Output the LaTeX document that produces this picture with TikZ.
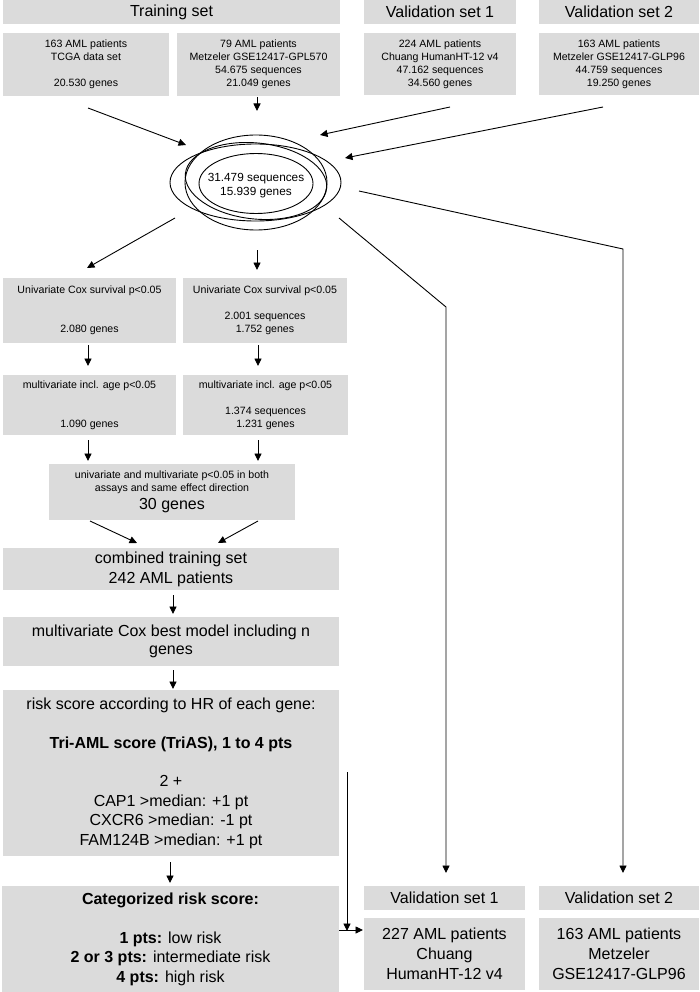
\documentclass[tikz,border=0pt]{standalone}
\usepackage{fontspec}
\setmainfont{Liberation Sans}
\usetikzlibrary{arrows.meta}
\definecolor{boxgray}{RGB}{219,219,219}
\begin{document}
\begin{tikzpicture}[x=1pt,y=-1pt,
  box/.style={fill=boxgray, inner sep=0pt, align=center},
  sm/.style={font=\fontsize{10.6}{13}\selectfont},
  lg/.style={font=\fontsize{16}{19.5}\selectfont},
  arr/.style={-{Triangle[length=7.5pt,width=7pt]}, line width=0.9pt},
  ln/.style={line width=0.9pt},
  ell/.style={line width=0.9pt}
]
\useasboundingbox (0,0) rectangle (699,992);

% headers
\node[box,lg,minimum width=337pt,minimum height=24pt] (hTrain) at (171.5,12) {Training set};
\node[box,lg,minimum width=152pt,minimum height=24pt] (hV1) at (440,12) {Validation set 1};
\node[box,lg,minimum width=160pt,minimum height=24pt] (hV2) at (619,12) {Validation set 2};

% top data boxes
\node[box,sm,minimum width=166pt,minimum height=63pt] (tcga) at (86,64.5) {163 AML patients\\TCGA data set\\\mbox{}\\20.530 genes};
\node[box,sm,minimum width=163pt,minimum height=63pt] (metz) at (258.5,64.5) {79 AML patients\\Metzeler GSE12417-GPL570\\54.675 sequences\\21.049 genes};
\node[box,sm,minimum width=152pt,minimum height=62pt] (chu) at (440,64) {224 AML patients\\Chuang HumanHT-12 v4\\47.162 sequences\\34.560 genes};
\node[box,sm,minimum width=160pt,minimum height=62pt] (metzb) at (619,64) {163 AML patients\\Metzeler GSE12417-GLP96\\44.759 sequences\\19.250 genes};

% ellipses
\draw[ell] (255.5,182.5) ellipse [x radius=85.5pt, y radius=38.5pt];
\draw[ell] (256,182.5) ellipse [x radius=71pt, y radius=47.5pt];
\draw[ell, rotate around={-6:(256,181)}] (256,181) ellipse [x radius=71pt, y radius=38pt];
\draw[ell] (256,183.5) ellipse [x radius=57pt, y radius=30pt];
\node[font=\fontsize{11.8}{14}\selectfont, align=center, inner sep=0pt] (inter) at (256,185.5) {31.479 sequences\\15.939 genes};

% middle boxes
\node[box,sm,minimum width=173pt,minimum height=65pt] (uniL) at (89.5,310.5) {Univariate Cox survival p<0.05\\\mbox{}\\\mbox{}\\2.080 genes};
\node[box,sm,minimum width=164pt,minimum height=65pt] (uniR) at (265,310.5) {Univariate Cox survival p<0.05\\\mbox{}\\2.001 sequences\\1.752 genes};
\node[box,sm,minimum width=173pt,minimum height=60pt] (mulL) at (89.5,405) {multivariate incl. age p<0.05\\\mbox{}\\\mbox{}\\1.090 genes};
\node[box,sm,minimum width=165pt,minimum height=60pt] (mulR) at (265.5,405) {multivariate incl. age p<0.05\\\mbox{}\\1.374 sequences\\1.231 genes};
\node[box,sm,minimum width=246pt,minimum height=56pt] (thirty) at (172,492) {univariate and multivariate p<0.05 in both\\assays and same effect direction\\[3pt]\fontsize{16}{16}\selectfont 30 genes};

% lower left column
\node[box,font=\fontsize{16}{20}\selectfont,minimum width=336pt,minimum height=42pt] (comb) at (171,569) {combined training set\\242 AML patients};
\node[box,font=\fontsize{16}{18}\selectfont,minimum width=336pt,minimum height=49pt] (cox) at (171,641.5) {multivariate Cox best model including n\\genes};
\node[box,font=\fontsize{16}{19.4}\selectfont,minimum width=336pt,minimum height=166pt] (risk) at (171,773) {risk score according to HR of each gene:\\\mbox{}\\\textbf{Tri-AML score (TriAS), 1 to 4 pts}\\\mbox{}\\2 +\\CAP1 >median: +1 pt\\CXCR6 >median: -1 pt\\FAM124B >median: +1 pt};
\node[box,font=\fontsize{16}{19.5}\selectfont,minimum width=337pt,minimum height=106pt] (cat) at (170.5,939) {\textbf{Categorized risk score:}\\\mbox{}\\\textbf{1 pts:} low risk\\\textbf{2 or 3 pts:} intermediate risk\\\textbf{4 pts:} high risk};

% lower validation boxes
\node[box,lg,minimum width=161pt,minimum height=24pt] (hV1b) at (444.5,898) {Validation set 1};
\node[box,lg,minimum width=160pt,minimum height=24pt] (hV2b) at (619,898) {Validation set 2};
\node[box,font=\fontsize{16}{20}\selectfont,minimum width=161pt,minimum height=72pt] (v1b) at (444.5,954) {227 AML patients\\Chuang\\HumanHT-12 v4};
\node[box,font=\fontsize{16}{20}\selectfont,minimum width=160pt,minimum height=72pt] (v2b) at (619,954) {163 AML patients\\Metzeler\\GSE12417-GLP96};

% connector end points
\coordinate (a1s) at (88,108);   \coordinate (a1e) at (186,145);
\coordinate (a2s) at (257,97);   \coordinate (a2e) at (257,111);
\coordinate (a3s) at (450,107);  \coordinate (a3e) at (320,135);
\coordinate (a4s) at (603,107);  \coordinate (a4e) at (345,158);
\coordinate (a5s) at (175,218);  \coordinate (a5e) at (87,268);
\coordinate (a6s) at (257,250);  \coordinate (a6e) at (257,270);
\coordinate (a7s) at (339,218);  \coordinate (a7m) at (446,307); \coordinate (a7e) at (446,873);
\coordinate (a8s) at (359,191);  \coordinate (a8m) at (623,249); \coordinate (a8e) at (623,873);
\coordinate (a9s) at (88,345);   \coordinate (a9e) at (88,366);
\coordinate (a10s) at (258,345); \coordinate (a10e) at (258,366);
\coordinate (a11s) at (88,440);  \coordinate (a11e) at (88,461);
\coordinate (a12s) at (258,440); \coordinate (a12e) at (258,461);
\coordinate (a13s) at (90,521);  \coordinate (a13e) at (137,543);
\coordinate (a14s) at (258,521); \coordinate (a14e) at (218,543);
\coordinate (a15s) at (173,595); \coordinate (a15e) at (173,614);
\coordinate (a16s) at (173,670); \coordinate (a16e) at (173,689);
\coordinate (a17s) at (170,862); \coordinate (a17e) at (170,883);
\coordinate (a18s) at (347,772); \coordinate (a18e) at (347,931);
\coordinate (a19s) at (339,930); \coordinate (a19e) at (363,930);

\draw[arr] (a1s) -- (a1e);
\draw[arr] (a2s) -- (a2e);
\draw[arr] (a3s) -- (a3e);
\draw[arr] (a4s) -- (a4e);
\draw[arr] (a5s) -- (a5e);
\draw[arr] (a6s) -- (a6e);
\draw[arr] (a7s) -- (a7m) -- (a7e);
\draw[arr] (a8s) -- (a8m) -- (a8e);
\draw[arr] (a9s) -- (a9e);
\draw[arr] (a10s) -- (a10e);
\draw[arr] (a11s) -- (a11e);
\draw[arr] (a12s) -- (a12e);
\draw[arr] (a13s) -- (a13e);
\draw[arr] (a14s) -- (a14e);
\draw[arr] (a15s) -- (a15e);
\draw[arr] (a16s) -- (a16e);
\draw[arr] (a17s) -- (a17e);
\draw[arr] (a18s) -- (a18e);
\draw[arr] (a19s) -- (a19e);
\end{tikzpicture}
\end{document}
